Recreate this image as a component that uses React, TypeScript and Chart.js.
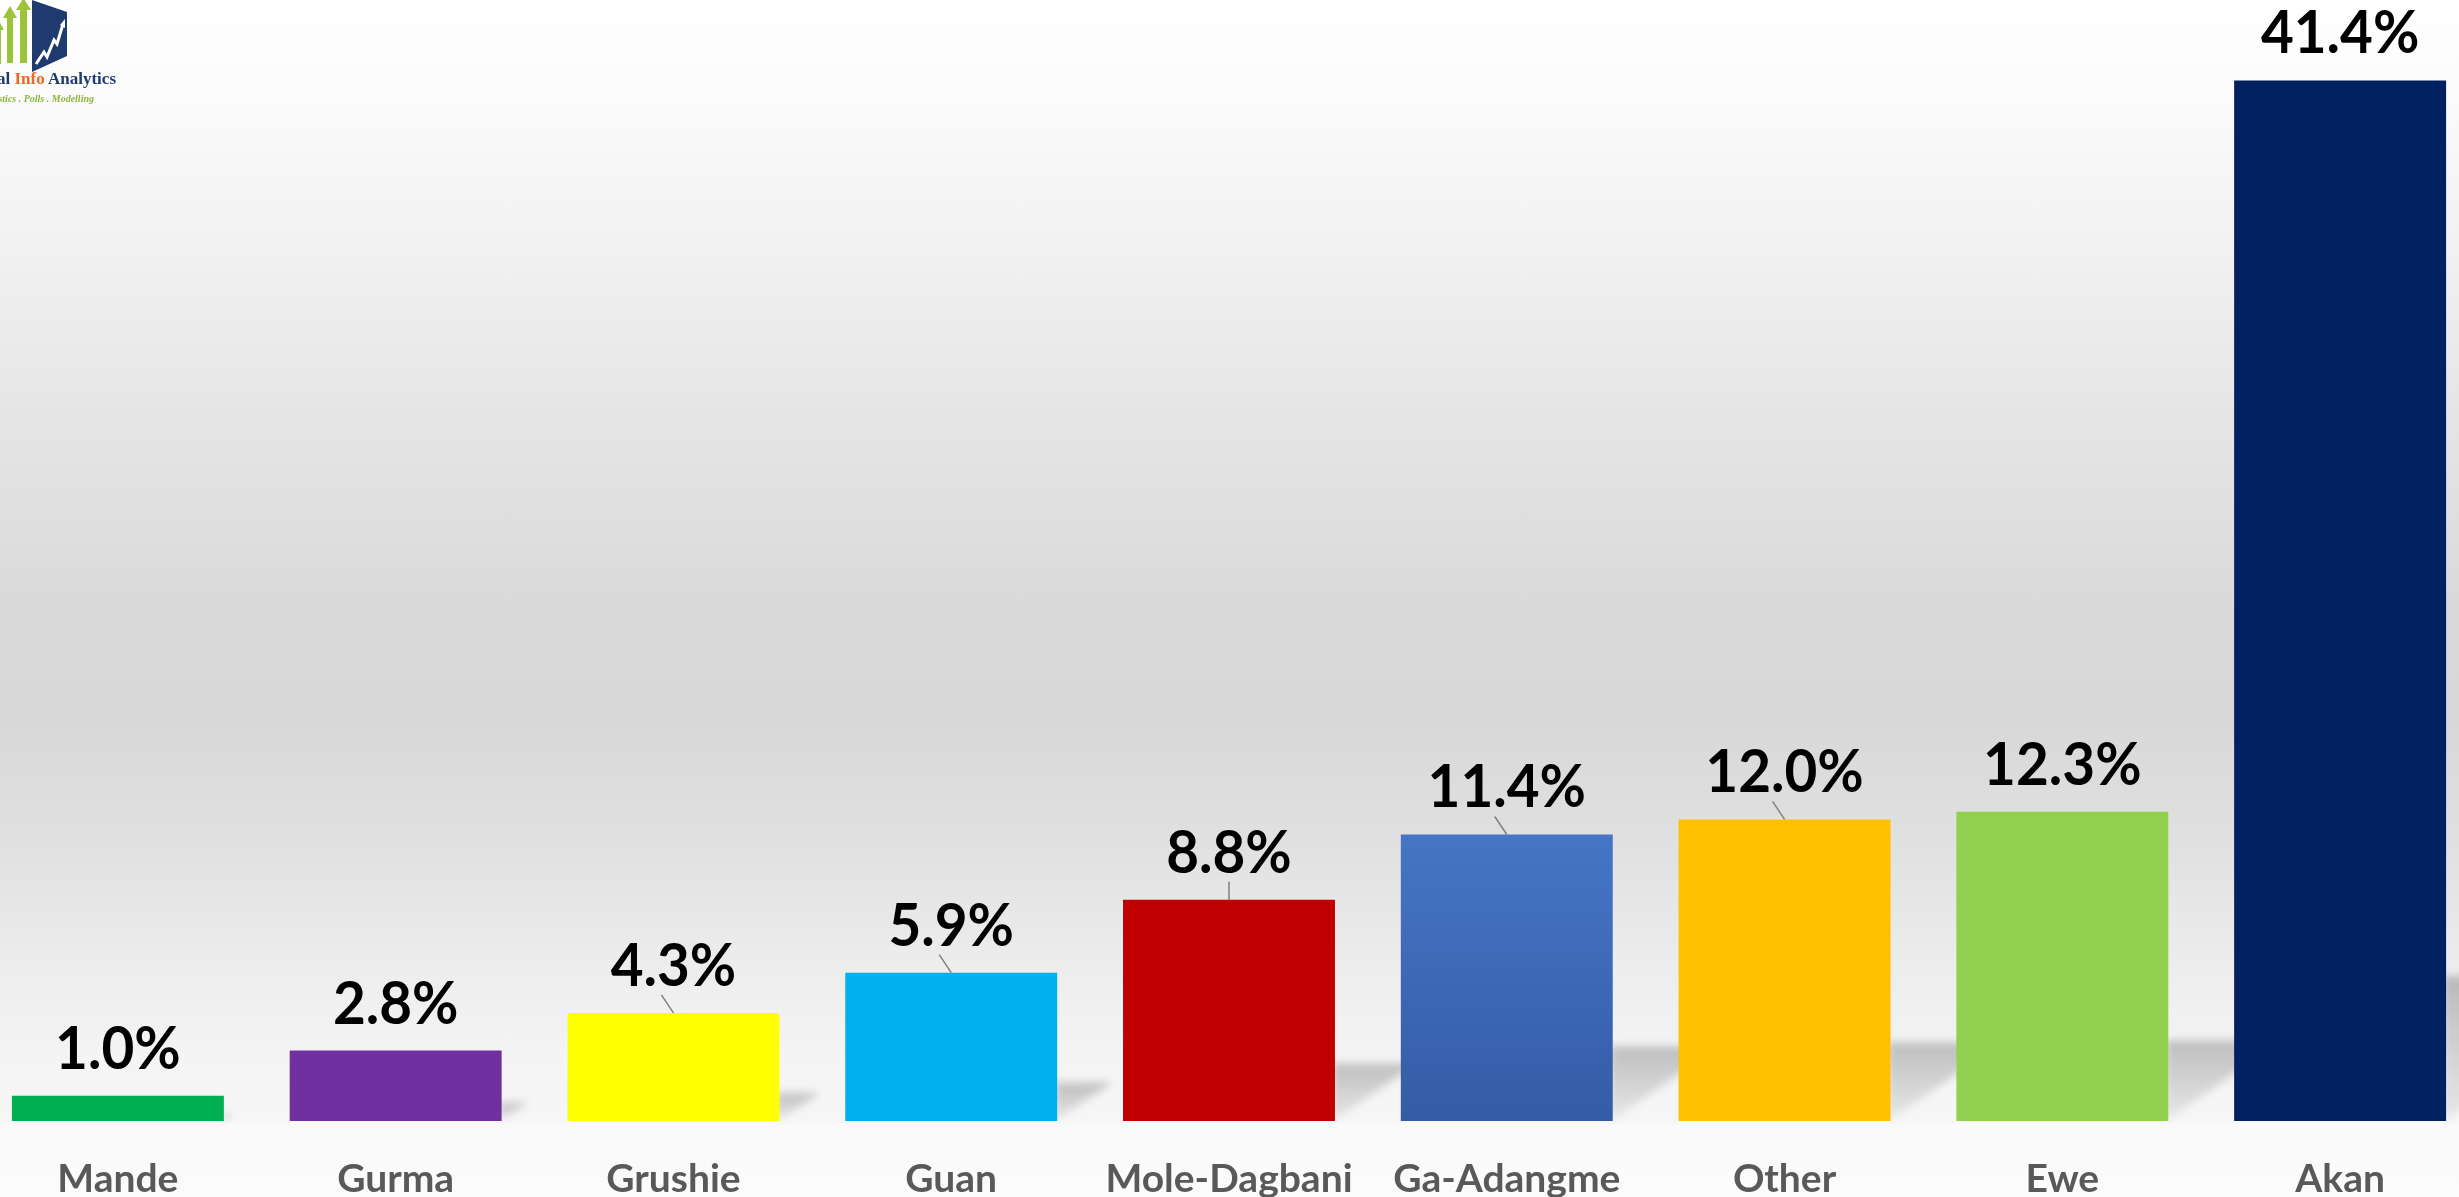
import React, { useEffect, useRef } from "react";
import { Chart, registerables } from "chart.js";

Chart.register(...registerables);

const categories = ["Mande", "Gurma", "Grushie", "Guan", "Mole-Dagbani", "Ga-Adangme", "Other", "Ewe", "Akan"];
const shares = [1.0, 2.8, 4.3, 5.9, 8.8, 11.4, 12.0, 12.3, 41.4];
const barColors = ["#00B050", "#7030A0", "#FFFF00", "#00B0F0", "#C00000", "#4472C4", "#FFC000", "#92D050", "#002060"];
const leaderKind = ["none", "none", "slant", "slant", "vertical", "slant", "slant", "none", "none"];

const shadowPlugin = {
  id: "barShadows",
  beforeDatasetsDraw(chart: any) {
    const ctx = chart.ctx;
    const meta = chart.getDatasetMeta(0);
    meta.data.forEach((bar: any) => {
      const { x, y, base, width } = bar.getProps(["x", "y", "base", "width"], true);
      const right = x + width / 2;
      const h = base - y;
      const sh = Math.min(h * 0.26, 145);
      const w = sh / 0.7;
      ctx.save();
      ctx.filter = "blur(4px)";
      const g = ctx.createLinearGradient(0, base - sh, 0, base);
      g.addColorStop(0, "rgba(0,0,0,0.22)");
      g.addColorStop(1, "rgba(0,0,0,0.06)");
      ctx.fillStyle = g;
      ctx.beginPath();
      ctx.moveTo(right - 3, base - sh);
      ctx.lineTo(right + w, base - sh);
      ctx.lineTo(right - 3, base);
      ctx.closePath();
      ctx.fill();
      ctx.restore();
    });
  },
};

const labelPlugin = {
  id: "valueLabels",
  afterDatasetsDraw(chart: any) {
    const ctx = chart.ctx;
    const meta = chart.getDatasetMeta(0);
    meta.data.forEach((bar: any, i: number) => {
      const { x, y } = bar.getProps(["x", "y"], true);
      ctx.save();
      const kind = leaderKind[i];
      if (kind !== "none") {
        ctx.strokeStyle = "#7f7f7f";
        ctx.lineWidth = 1.5;
        ctx.beginPath();
        ctx.moveTo(x, y);
        ctx.lineTo(kind === "slant" ? x - 12 : x, y - 18);
        ctx.stroke();
      }
      ctx.fillStyle = "#000000";
      ctx.font = "bold 59px Lato";
      ctx.textAlign = "center";
      ctx.textBaseline = "middle";
      ctx.translate(x, y - 46);
      ctx.scale(0.96, 1);
      ctx.fillText(shares[i].toFixed(1) + "%", 0, 0);
      ctx.restore();
    });
  },
};

function Logo() {
  return (
    <div style={{ position: "absolute", left: 0, top: 0, width: 130, height: 110, overflow: "hidden" }}>
      <svg width="130" height="80" style={{ position: "absolute", left: 0, top: 0 }}>
        <g fill="#9BC43A">
          <rect x="-4" y="28" width="5" height="36" />
          <polygon points="-7,30 -1.5,20 4,30" />
          <rect x="7" y="16" width="6" height="47" />
          <polygon points="3,18 10,6 17,18" />
          <rect x="20" y="8" width="7" height="55" />
          <polygon points="16,10 23.5,-2 31,10" />
        </g>
        <polygon points="32,0 67,12 67,56 32,72" fill="#1F3A6E" />
        <polyline points="36,64 44,52 47,57 54,40 57,44 63,24" fill="none" stroke="#ffffff" strokeWidth="3" />
        <polygon points="60,25 65,19 65,28" fill="#ffffff" />
      </svg>
      <div
        style={{
          position: "absolute",
          right: 14,
          top: 70,
          whiteSpace: "nowrap",
          fontFamily: "'Liberation Serif', 'DejaVu Serif', serif",
          fontWeight: "bold",
          fontSize: 17,
          color: "#1F3A6E",
          lineHeight: "18px",
        }}
      >
        Global <span style={{ color: "#F26522" }}>Info</span> Analytics
      </div>
      <div
        style={{
          position: "absolute",
          right: 36,
          top: 93,
          whiteSpace: "nowrap",
          fontFamily: "'Liberation Serif', 'DejaVu Serif', serif",
          fontStyle: "italic",
          fontWeight: "bold",
          fontSize: 10,
          color: "#8DB53C",
          lineHeight: "12px",
        }}
      >
        Statistics . Polls . Modelling
      </div>
    </div>
  );
}

export default function App() {
  const canvasRef = useRef<HTMLCanvasElement | null>(null);

  useEffect(() => {
    const canvas = canvasRef.current;
    if (!canvas) return;
    const chart = new Chart(canvas, {
      type: "bar",
      data: {
        labels: categories,
        datasets: [
          {
            data: shares,
            backgroundColor: (c: any) => {
              const i = c.dataIndex;
              if (i === 5 && c.chart.scales && c.chart.scales.y) {
                const ys = c.chart.scales.y;
                const top = ys.getPixelForValue(shares[5]);
                const bottom = ys.getPixelForValue(0);
                if (isFinite(top) && isFinite(bottom)) {
                  const g = c.chart.ctx.createLinearGradient(0, top, 0, bottom);
                  g.addColorStop(0, "#4675C6");
                  g.addColorStop(1, "#345CA6");
                  return g;
                }
              }
              return barColors[i];
            },
            borderWidth: 0,
            barPercentage: 0.763,
            categoryPercentage: 1,
          },
        ],
      },
      options: {
        responsive: false,
        animation: false,
        devicePixelRatio: 1,
        layout: { padding: 0 },
        plugins: {
          legend: { display: false },
          tooltip: { enabled: false },
        },
        scales: {
          x: {
            grid: { display: false, drawTicks: false },
            border: { display: false },
            ticks: {
              color: "#595959",
              font: { family: "Lato", weight: "bold", size: 39 },
              padding: 35,
              maxRotation: 0,
              autoSkip: false,
            },
            afterFit: (s: any) => {
              s.height = 76;
            },
          },
          y: { display: false, min: 0, max: 44.6 },
        },
      },
      plugins: [shadowPlugin, labelPlugin],
    });
    return () => chart.destroy();
  }, []);

  return (
    <div
      style={{
        position: "fixed",
        left: 0,
        top: 0,
        width: 2459,
        height: 1197,
        overflow: "hidden",
        background:
          "linear-gradient(to bottom, #ffffff 0%, #fbfbfb 8%, #f2f2f2 20%, #e5e5e5 35%, #dadada 50%, #d8d8d8 60%, #e0e0e0 70%, #ececec 80%, #f4f4f4 88%, #f6f6f6 93.6%, #fafafa 94%, #fbfbfb 100%)",
      }}
    >
      <canvas
        ref={canvasRef}
        width={2500}
        height={1197}
        style={{ position: "absolute", left: -21, top: 0, width: 2500, height: 1197 }}
      />
      <Logo />
    </div>
  );
}
